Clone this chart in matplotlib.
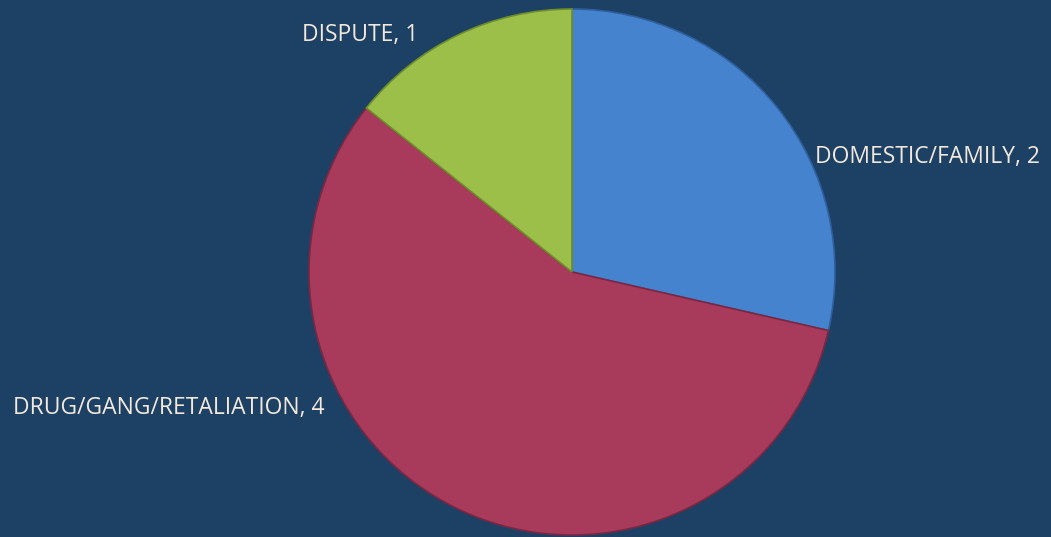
import matplotlib
matplotlib.use("Agg")
import matplotlib.pyplot as plt

categories = ["DOMESTIC/FAMILY", "DRUG/GANG/RETALIATION", "DISPUTE"]
values = [2, 4, 1]

COLORS = ["#4683cf", "#a83a5b", "#9bbf48"]
EDGES = ["#2f5f9e", "#7d2642", "#6f8d2c"]
BG = "#1d4164"
TEXT = "#f3e8dc"

W, H = 1051, 537
fig = plt.figure(figsize=(W / 100, H / 100), dpi=100, facecolor=BG)
ax = fig.add_axes([0, 0, 1, 1])
ax.set_facecolor(BG)

wedges, _ = ax.pie(values, colors=COLORS, startangle=90, counterclock=False,
                   center=(572, 265), radius=263, frame=True,
                   wedgeprops=dict(linewidth=1.2))
for w, ec in zip(wedges, EDGES):
    w.set_edgecolor(ec)

ax.set_xlim(0, W)
ax.set_ylim(0, H)
ax.set_aspect("equal")
ax.axis("off")

# label positions (pixels, PowerPoint-style placement)
label_pos = [(815, 380), (13, 129), (302, 502)]
for name, v, (x, y) in zip(categories, values, label_pos):
    ax.text(x, y, f"{name}, {v}", color=TEXT, fontsize=16.5,
            family=["Open Sans", "DejaVu Sans"], ha="left", va="center")

fig.savefig("out.png", dpi=100, facecolor=BG)
